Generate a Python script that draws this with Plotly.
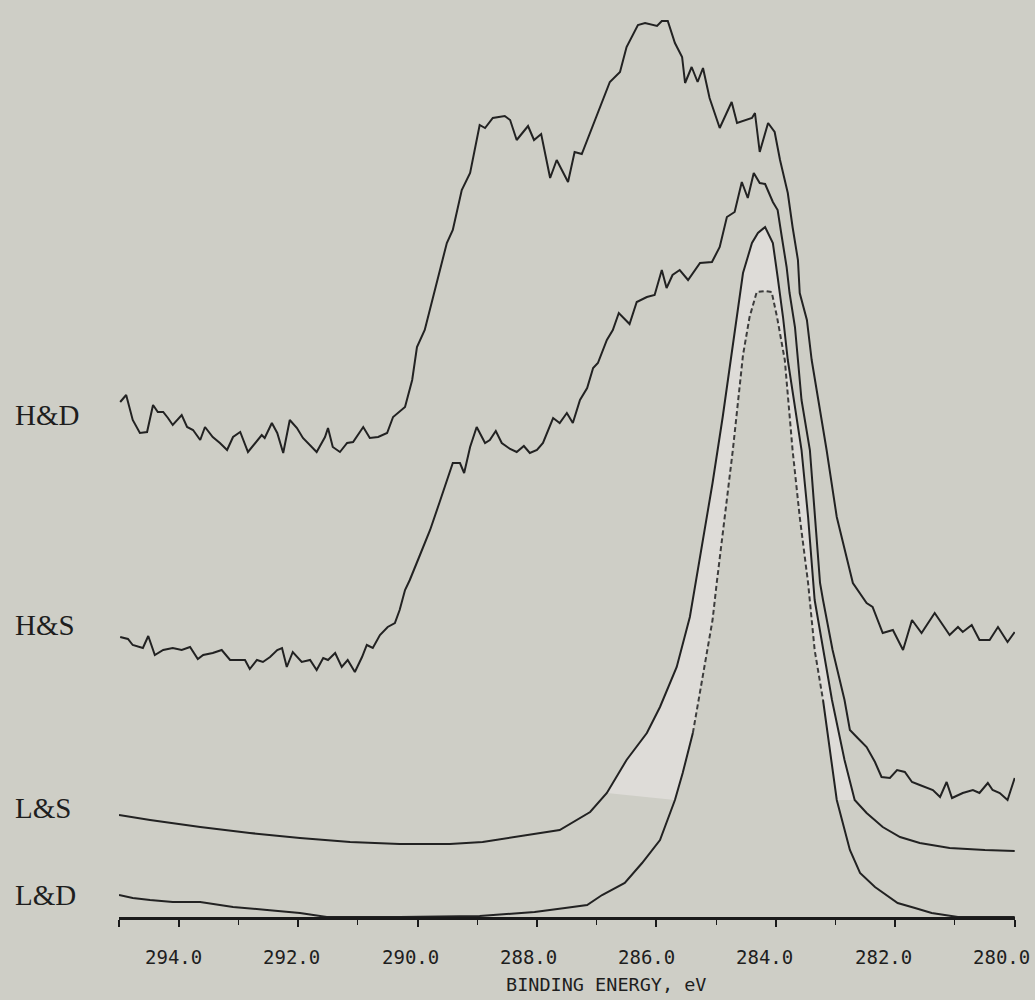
import numpy as np
import plotly.graph_objects as go

# ---------------- data (binding energy in eV, intensity in arbitrary offset units) -------------
hd_energy = [294.98, 294.88, 294.77, 294.65, 294.53, 294.43, 294.35, 294.26, 294.18, 294.10,
             293.95, 293.86, 293.76, 293.64, 293.56, 293.43, 293.31, 293.19, 293.09, 292.97,
             292.84, 292.72, 292.61, 292.56, 292.44, 292.35, 292.25, 292.14, 292.02, 291.92,
             291.77, 291.69, 291.55, 291.50, 291.42, 291.30, 291.18, 291.08, 290.91, 290.80,
             290.66, 290.51, 290.41, 290.21, 290.09, 290.01, 289.88, 289.74, 289.59, 289.51,
             289.41, 289.26, 289.12, 288.96, 288.87, 288.74, 288.54, 288.45, 288.34, 288.15,
             288.05, 287.93, 287.78, 287.67, 287.48, 287.37, 287.25, 287.11, 286.95, 286.78,
             286.61, 286.50, 286.31, 286.19, 285.99, 285.91, 285.81, 285.69, 285.57, 285.52,
             285.41, 285.31, 285.22, 285.11, 284.94, 284.74, 284.65, 284.40, 284.35, 284.27,
             284.13, 284.02, 283.93, 283.80, 283.72, 283.63, 283.60, 283.48, 283.40, 283.26,
             283.15, 282.98, 282.85, 282.71, 282.48, 282.38, 282.21, 282.04, 281.87, 281.72,
             281.56, 281.34, 281.09, 280.95, 280.87, 280.72, 280.59, 280.42, 280.28, 280.12,
             280.00]
hd_intensity = [515, 522, 497, 484, 485, 512, 505, 505, 499, 492,
                502, 490, 487, 477, 490, 480, 474, 467, 480, 485,
                465, 474, 482, 479, 494, 484, 464, 497, 489, 479,
                470, 465, 480, 489, 470, 465, 474, 475, 490, 479,
                480, 484, 500, 510, 537, 570, 587, 620, 654, 674,
                687, 727, 744, 792, 789, 799, 801, 797, 777, 791,
                777, 783, 739, 757, 735, 765, 763, 784, 810, 835,
                845, 870, 892, 894, 891, 896, 896, 874, 860, 834,
                850, 835, 849, 819, 789, 815, 794, 799, 804, 765,
                794, 785, 757, 724, 690, 657, 624, 597, 557, 507,
                467, 400, 367, 334, 314, 310, 284, 287, 267, 297,
                284, 304, 282, 290, 285, 292, 277, 277, 290, 275,
                285]

hs_energy = [294.98, 294.85, 294.77, 294.60, 294.51, 294.40, 294.26, 294.10, 293.95, 293.81,
             293.68, 293.59, 293.43, 293.28, 293.14, 292.89, 292.81, 292.69, 292.59, 292.47,
             292.35, 292.27, 292.19, 292.09, 291.94, 291.80, 291.69, 291.58, 291.50, 291.38,
             291.27, 291.17, 291.05, 290.93, 290.85, 290.75, 290.63, 290.50, 290.38, 290.30,
             290.21, 290.13, 289.96, 289.79, 289.63, 289.49, 289.41, 289.29, 289.22, 289.12,
             289.01, 288.87, 288.79, 288.69, 288.59, 288.45, 288.34, 288.22, 288.12, 288.00,
             287.90, 287.73, 287.62, 287.50, 287.40, 287.28, 287.16, 287.06, 286.98, 286.83,
             286.73, 286.63, 286.45, 286.33, 286.16, 286.03, 285.91, 285.83, 285.73, 285.61,
             285.47, 285.27, 285.07, 284.94, 284.82, 284.69, 284.57, 284.47, 284.37, 284.27,
             284.18, 284.05, 283.97, 283.90, 283.82, 283.77, 283.68, 283.63, 283.57, 283.43,
             283.35, 283.26, 283.21, 283.05, 282.85, 282.76, 282.63, 282.48, 282.34, 282.23,
             282.09, 281.97, 281.84, 281.72, 281.59, 281.37, 281.25, 281.14, 281.05, 280.87,
             280.70, 280.59, 280.45, 280.37, 280.25, 280.12, 280.00]
hs_intensity = [280, 278, 272, 269, 281, 262, 267, 269, 267, 270,
                258, 262, 264, 267, 257, 257, 248, 257, 255, 260,
                267, 269, 250, 265, 255, 257, 247, 259, 257, 264,
                250, 257, 245, 260, 272, 269, 282, 290, 294, 307,
                327, 337, 362, 387, 415, 440, 454, 454, 444, 470,
                490, 474, 477, 486, 474, 468, 465, 471, 464, 467,
                474, 499, 494, 504, 494, 517, 529, 549, 554, 577,
                587, 604, 593, 615, 620, 622, 647, 629, 642, 647,
                637, 654, 655, 670, 700, 705, 735, 719, 744, 734,
                733, 715, 707, 680, 650, 624, 590, 557, 517, 467,
                400, 334, 317, 267, 217, 187, 179, 170, 155, 140,
                139, 147, 145, 135, 132, 127, 120, 135, 119, 124,
                127, 124, 134, 127, 124, 117, 139]

ls_energy = [295.00, 294.48, 293.64, 292.81, 291.97, 291.13, 290.30, 289.46, 288.91, 288.29,
             287.62, 287.11, 286.83, 286.50, 286.16, 285.94, 285.66, 285.44, 285.27, 285.06,
             284.89, 284.74, 284.64, 284.55, 284.40, 284.30, 284.18, 284.05, 283.97, 283.88,
             283.80, 283.57, 283.46, 283.38, 283.35, 283.06, 282.85, 282.68, 282.48, 282.21,
             281.92, 281.59, 281.09, 280.50, 280.00]
ls_intensity = [102, 97, 90, 84, 79, 75, 73, 73, 75, 81,
                87, 105, 124, 157, 184, 210, 250, 300, 360, 434,
                500, 564, 607, 644, 674, 684, 690, 674, 640, 600,
                557, 467, 400, 334, 317, 217, 157, 117, 104, 90,
                80, 74, 69, 67, 66]

ld_energy = [295.00, 294.77, 294.48, 294.10, 293.64, 293.09, 292.52, 291.97, 291.52, 290.30,
             288.96, 288.37, 288.04, 287.53, 287.16, 286.91, 286.53, 286.24, 285.94, 285.69,
             285.56, 285.39, 285.22, 285.06, 284.99, 284.85, 284.72, 284.55, 284.44, 284.32,
             284.18, 284.07, 283.98, 283.85, 283.72, 283.60, 283.46, 283.35, 283.21, 282.98,
             282.76, 282.59, 282.34, 281.96, 281.67, 281.39, 280.95, 280.00]
ld_intensity = [22, 19, 17, 15, 15, 10, 7, 4, 0, 0,
                1, 4, 5, 9, 12, 22, 34, 54, 77, 117,
                144, 184, 244, 297, 334, 400, 467, 562, 600, 625,
                626, 625, 600, 557, 467, 400, 334, 267, 217, 117,
                67, 44, 30, 14, 9, 4, 0, 0]

sample_labels = ["H&D", "H&S", "L&S", "L&D"]
label_levels = [502, 292, 109, 22]

tick_values = [294, 292, 290, 288, 286, 284, 282, 280]
tick_labels = ["294.0", "292.0", "290.0", "288.0", "286.0", "284.0", "282.0", "280.0"]
minor_tick_values = [293, 291, 289, 287, 285, 283, 281]
axis_title = "BINDING ENERGY, eV"

# ---------------- styling ----------------
BG = "#cecec6"
INK = "#222222"
MONO = "DejaVu Sans Mono"
SERIF = "Liberation Serif"

fig = go.Figure()

# light band between L&S and L&D near the peak (clipped at a level)
clip = 115
ls_e = np.array(ls_energy); ls_i = np.array(ls_intensity)
ld_e = np.array(ld_energy); ld_i = np.array(ld_intensity)
m1 = ls_i >= clip
m2 = ld_i >= clip
band_x = np.concatenate([ls_e[m1], ld_e[m2][::-1]])
band_y = np.concatenate([ls_i[m1], ld_i[m2][::-1]])
fig.add_trace(go.Scatter(x=band_x, y=band_y, fill="toself", fillcolor="#dedcd8",
                         line=dict(width=0), mode="lines", hoverinfo="skip", showlegend=False))

for e, i in [(hd_energy, hd_intensity), (hs_energy, hs_intensity), (ls_energy, ls_intensity)]:
    fig.add_trace(go.Scatter(x=e, y=i, mode="lines", line=dict(color=INK, width=2),
                             showlegend=False))

# L&D: solid in the wings, grey dashed near the top
ld_solid = np.where(ld_i <= 220, ld_i, np.nan)
ld_dash = np.where(ld_i >= 180, ld_i, np.nan)
fig.add_trace(go.Scatter(x=ld_e, y=ld_solid, mode="lines", connectgaps=False,
                         line=dict(color=INK, width=2), showlegend=False))
fig.add_trace(go.Scatter(x=ld_e, y=ld_dash, mode="lines", connectgaps=False,
                         line=dict(color="#3c3c3c", width=2, dash="5px,3px"), showlegend=False))

for lab, lev in zip(sample_labels, label_levels):
    fig.add_annotation(text=lab, x=-0.118, xref="paper", y=lev, yref="y",
                       xanchor="left", yanchor="middle", showarrow=False,
                       font=dict(family=SERIF, size=29, color="#1e1e1e"))

# tick labels as annotations (so the last one at the right edge is not dropped)
for k, (tv, tl) in enumerate(zip(tick_values, tick_labels)):
    fig.add_annotation(text=tl, x=tv, xref="x", y=-0.0444, yref="paper",
                       xanchor="center", yanchor="middle", xshift=-5 - 1.2 * k,
                       showarrow=False,
                       font=dict(family=MONO, size=19, color="#1e1e1e"))

fig.add_annotation(text=axis_title, x=286.85, xref="x", y=-0.075, yref="paper",
                   xanchor="center", yanchor="middle", showarrow=False,
                   font=dict(family=MONO, size=18.5, color="#1e1e1e"))

fig.update_layout(
    width=1035, height=1000,
    margin=dict(l=119, r=20, t=17, b=83),
    paper_bgcolor=BG, plot_bgcolor=BG,
    showlegend=False,
    xaxis=dict(range=[295, 279.995], showgrid=False, zeroline=False,
               showline=True, linecolor="#1a1a1a", linewidth=3,
               tickmode="array", tickvals=[295] + tick_values,
               ticktext=[""] * (len(tick_values) + 1),
               ticks="outside", ticklen=7, tickwidth=1.5, tickcolor="#1a1a1a",
               minor=dict(tickvals=minor_tick_values, ticks="outside",
                          ticklen=5, tickwidth=1.2, tickcolor="#1a1a1a"),
               tickfont=dict(family=MONO, size=19, color="#1e1e1e")),
    yaxis=dict(range=[0, 900], visible=False, showgrid=False, zeroline=False),
)

fig.write_html("out.html")
